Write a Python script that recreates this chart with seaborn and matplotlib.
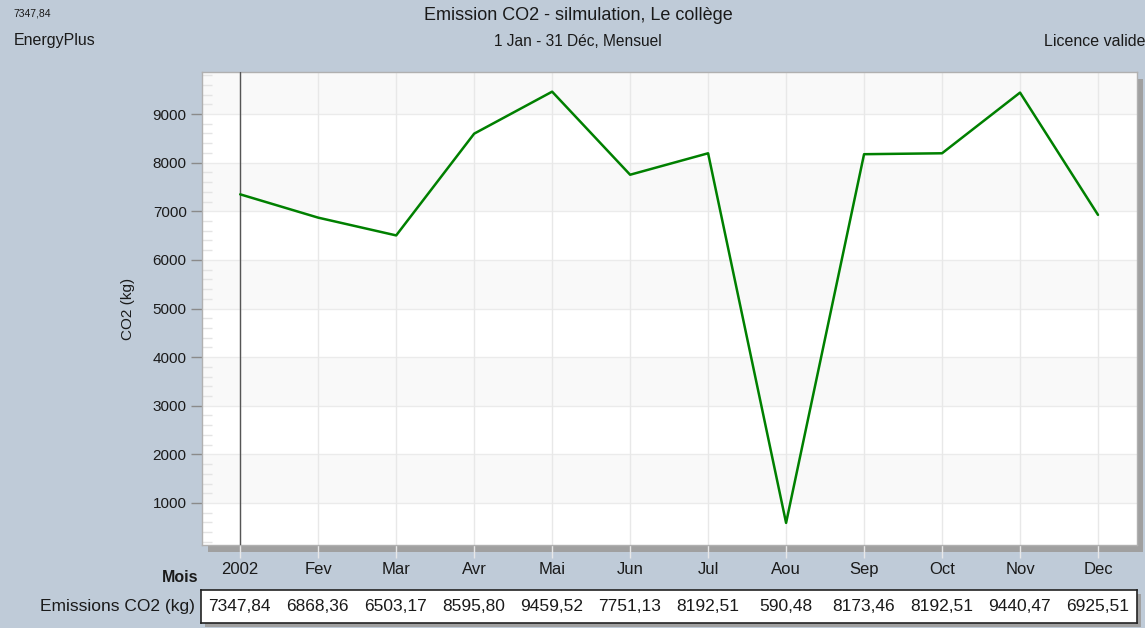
import matplotlib
matplotlib.use("Agg")
import matplotlib.pyplot as plt
from matplotlib.patches import Rectangle
from matplotlib.transforms import blended_transform_factory
import numpy as np
import pandas as pd
import seaborn as sns

# Monthly CO2 emissions (kg)
months = ["2002", "Fev", "Mar", "Avr", "Mai", "Jun", "Jul", "Aou", "Sep", "Oct", "Nov", "Dec"]
emissions = [7347.84, 6868.36, 6503.17, 8595.80, 9459.52, 7751.13,
             8192.51, 590.48, 8173.46, 8192.51, 9440.47, 6925.51]
y_ticks = [1000, 2000, 3000, 4000, 5000, 6000, 7000, 8000, 9000]

title = "Emission CO2 - silmulation, Le collège"
subtitle = "1 Jan - 31 Déc, Mensuel"

sns.set_style("white")
plt.rcParams["font.family"] = ["Liberation Sans", "DejaVu Sans"]

BG = "#bfcbd8"
SHADOW = "#a0a0a0"
TXT = "#1a1a1a"
W, H = 1145, 628

fig = plt.figure(figsize=(W / 100, H / 100), dpi=100, facecolor=BG)

def fx(px):
    return px / W

def fy(py):
    return 1 - py / H

# plot area in pixel coordinates
L, R, T, B = 202, 1137, 72, 545
ax = fig.add_axes([fx(L), fy(B), fx(R - L), fy(T) - fy(B)])
ax.set_zorder(2)

# drop shadow behind the plot area
fig.patches.append(Rectangle((fx(L + 6), fy(B + 7)), fx(R - L), fy(T + 7) - fy(B + 7),
                             transform=fig.transFigure, facecolor=SHADOW,
                             edgecolor="none", zorder=-1))

df = pd.DataFrame({"idx": np.arange(len(months)), "co2": emissions})

ax.set_facecolor("white")
ax.set_xlim(-0.49, 11.5)
ax.set_ylim(136, 9864)

# alternating horizontal bands
band_edges = [1000, 3000, 5000, 7000, 9000]
for lo in band_edges:
    ax.axhspan(lo, lo + 1000, color="#f9f9f9", zorder=0, lw=0)
for yv in y_ticks:
    ax.axhline(yv, color="#ebebeb", lw=1, zorder=1)
for i in range(len(months)):
    ax.axvline(i, color="#e8e8e8", lw=1, zorder=1)

# cursor line on the first month
ax.axvline(0, color="#555555", lw=1, zorder=3)

sns.lineplot(data=df, x="idx", y="co2", ax=ax, color="#008000", lw=1.8,
             zorder=4, legend=False)

ax.set_xticks(range(len(months)))
ax.set_xticklabels(months)
ax.set_yticks(y_ticks)
ax.set_yticklabels([str(v) for v in y_ticks])
ax.set_xlabel("")
ax.set_ylabel("CO2 (kg)", fontsize=11, color=TXT, labelpad=13)

ax.tick_params(axis="y", direction="out", length=8, width=1, color="#8a8a8a",
               labelsize=11, labelcolor=TXT, pad=3, left=True)
ax.tick_params(axis="x", direction="out", length=9, width=1, color="#e8e8e8",
               labelsize=12, labelcolor=TXT, pad=3, bottom=True)

# minor ticks drawn inside along the left edge
ax.set_yticks(np.arange(200, 9864, 200), minor=True)
ax.tick_params(axis="y", which="minor", direction="in", length=7, width=1,
               color="#e4e4e4", left=True)

for s in ax.spines.values():
    s.set_color("#b0b0b0")
    s.set_linewidth(1)

# header texts
fig.text(fx(13), fy(14), "7347,84", fontsize=7.5, color=TXT, va="center", ha="left")
fig.text(fx(14), fy(41), "EnergyPlus", fontsize=11.5, color=TXT, va="center", ha="left")
fig.text(fx(578), fy(16), title, fontsize=13, color=TXT, va="center", ha="center")
fig.text(fx(578), fy(41), subtitle, fontsize=11.2, color=TXT, va="center", ha="center")
fig.text(fx(1044), fy(41), "Licence valide", fontsize=11.5, color=TXT,
         va="center", ha="left")

fig.text(fx(198), fy(577), "Mois", fontsize=11.5, fontweight="bold", color=TXT,
         va="center", ha="right")
fig.text(fx(195), fy(607), "Emissions CO2 (kg)", fontsize=12.5, color=TXT,
         va="center", ha="right")

# value table under the chart
TL, TT, TB = 201, 590, 623
fig.patches.append(Rectangle((fx(TL + 4), fy(TB + 4)), fx(R - TL), fy(TT + 4) - fy(TB + 4),
                             transform=fig.transFigure, facecolor=SHADOW,
                             edgecolor="none", zorder=-1))
tax = fig.add_axes([fx(TL), fy(TB), fx(R - TL), fy(TT) - fy(TB)], sharex=ax)
tax.set_zorder(2)
tax.set_facecolor("white")
tax.set_yticks([])
tax.tick_params(axis="x", bottom=False, labelbottom=False)
for s in tax.spines.values():
    s.set_color("#222222")
    s.set_linewidth(1.2)
trans = blended_transform_factory(tax.transData, tax.transAxes)
for i, v in enumerate(emissions):
    tax.text(i, 0.5, f"{v:.2f}".replace(".", ","), transform=trans,
             ha="center", va="center", fontsize=12.5, color=TXT)
ax.set_xlim(-0.49, 11.5)

fig.savefig("out.png", dpi=100, facecolor=BG)
